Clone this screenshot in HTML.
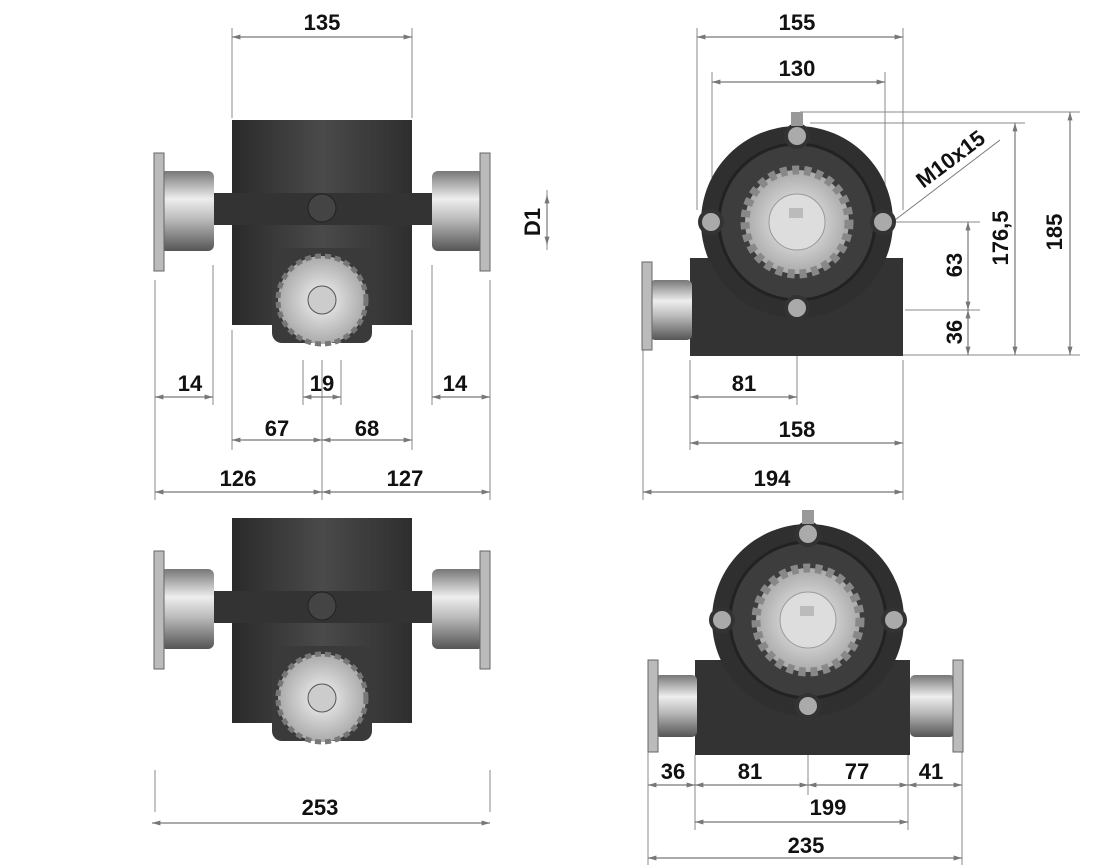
<!DOCTYPE html>
<html><head><meta charset="utf-8"><style>
html,body{margin:0;padding:0;background:#fff;width:1107px;height:868px;overflow:hidden}
svg text{font-family:"Liberation Sans",sans-serif;font-weight:bold;font-size:22px;fill:#111}
</style></head><body>
<svg width="1107" height="868" viewBox="0 0 1107 868" xmlns="http://www.w3.org/2000/svg">
<defs>
<linearGradient id="hub" x1="0" y1="0" x2="0" y2="1">
<stop offset="0" stop-color="#777"/><stop offset="0.35" stop-color="#eee"/><stop offset="0.6" stop-color="#bbb"/><stop offset="1" stop-color="#555"/></linearGradient>
<linearGradient id="body" x1="0" y1="0" x2="1" y2="0">
<stop offset="0" stop-color="#2a2a2a"/><stop offset="0.5" stop-color="#4a4a4a"/><stop offset="1" stop-color="#2e2e2e"/></linearGradient>
<radialGradient id="spr"><stop offset="0" stop-color="#f4f4f4"/><stop offset="1" stop-color="#aaa"/></radialGradient>
<marker id="a" viewBox="0 0 10 10" refX="10" refY="5" markerWidth="9" markerHeight="7" orient="auto-start-reverse"><path d="M0,2 L10,5 L0,8z" fill="#777"/></marker>
<g id="sideview">
<rect x="80" y="12" width="22" height="16" fill="#999"/>
<rect x="0" y="12" width="180" height="205" fill="url(#body)"/>
<rect x="-20" y="85" width="220" height="32" fill="#333"/>
<circle cx="90" cy="100" r="14" fill="#444" stroke="#222"/>
<rect x="-72" y="63" width="54" height="80" rx="6" fill="url(#hub)"/>
<rect x="-78" y="45" width="10" height="118" fill="#bbb" stroke="#666"/>
<rect x="200" y="63" width="52" height="80" rx="6" fill="url(#hub)"/>
<rect x="248" y="45" width="10" height="118" fill="#bbb" stroke="#666"/>
<rect x="40" y="140" width="100" height="95" rx="10" fill="#3a3a3a"/>
<circle cx="90" cy="192" r="44" fill="url(#spr)" stroke="#777" stroke-width="5" stroke-dasharray="6 4"/>
<circle cx="90" cy="192" r="14" fill="#ccc" stroke="#555"/>
</g>
<g id="frontview">
<circle cx="0" cy="0" r="96" fill="#2f2f2f"/>
<circle cx="0" cy="0" r="78" fill="#3d3d3d" stroke="#222" stroke-width="3"/>
<circle cx="0" cy="0" r="52" fill="url(#spr)" stroke="#888" stroke-width="9" stroke-dasharray="7 5"/>
<circle cx="0" cy="0" r="28" fill="#ddd" stroke="#999"/>
<rect x="-8" y="-14" width="14" height="10" fill="#bbb"/>
<circle cx="0" cy="-86" r="11" fill="#aaa" stroke="#333" stroke-width="4"/>
<circle cx="0" cy="86" r="11" fill="#aaa" stroke="#333" stroke-width="4"/>
<circle cx="-86" cy="0" r="11" fill="#aaa" stroke="#333" stroke-width="4"/>
<circle cx="86" cy="0" r="11" fill="#aaa" stroke="#333" stroke-width="4"/>
<rect x="-6" y="-110" width="12" height="14" fill="#999"/>
</g>
</defs>

<g stroke="#888" stroke-width="1" fill="none">
<!-- top-left extension lines -->
<path d="M232 28V118 M412 28V118 M155 280V500 M490 280V500 M213 265V405 M432 265V405 M232 330V450 M412 330V450 M322 360V500 M303 360V405 M341 360V405 M155 812V770 M490 812V770 M547 190V250"/>
<!-- top-right -->
<path d="M697 28V210 M903 28V210 M712 72V190 M885 72V190 M643 350V500 M903 360V500 M690 360V450 M797 330V405 M800 112H1080 M810 123H1025 M890 222H980 M905 310H980 M900 355H1080"/>
<!-- bottom-right -->
<path d="M648 700V865 M695 755V830 M808 730V795 M908 755V830 M962 700V865"/>
</g>
<g stroke="#777" stroke-width="1.2" marker-start="url(#a)" marker-end="url(#a)">
<line x1="232" y1="37" x2="412" y2="37"/>
<line x1="547" y1="195" x2="547" y2="245"/>
<line x1="155" y1="397" x2="213" y2="397"/>
<line x1="303" y1="397" x2="341" y2="397"/>
<line x1="432" y1="397" x2="490" y2="397"/>
<line x1="232" y1="440" x2="322" y2="440"/><line x1="322" y1="440" x2="412" y2="440"/>
<line x1="155" y1="492" x2="322" y2="492"/><line x1="322" y1="492" x2="490" y2="492"/>
<line x1="152" y1="823" x2="490" y2="823"/>
<line x1="697" y1="37" x2="903" y2="37"/>
<line x1="712" y1="82" x2="885" y2="82"/>
<line x1="1070" y1="112" x2="1070" y2="355"/>
<line x1="1015" y1="123" x2="1015" y2="355"/>
<line x1="968" y1="222" x2="968" y2="310"/><line x1="968" y1="310" x2="968" y2="355"/>
<line x1="690" y1="397" x2="797" y2="397"/>
<line x1="690" y1="443" x2="903" y2="443"/>
<line x1="643" y1="492" x2="903" y2="492"/>
<line x1="648" y1="785" x2="695" y2="785"/><line x1="695" y1="785" x2="808" y2="785"/>
<line x1="808" y1="785" x2="908" y2="785"/><line x1="908" y1="785" x2="962" y2="785"/>
<line x1="695" y1="822" x2="908" y2="822"/>
<line x1="648" y1="858" x2="962" y2="858"/>
</g>
<line x1="895" y1="220" x2="1000" y2="140" stroke="#777"/>

<use href="#sideview" x="232" y="108"/>
<use href="#sideview" x="232" y="506"/>

<!-- top right drawing -->
<rect x="690" y="258" width="213" height="98" fill="#333"/>
<rect x="650" y="280" width="42" height="60" rx="5" fill="url(#hub)"/>
<rect x="642" y="262" width="10" height="88" fill="#bbb" stroke="#666"/>
<use href="#frontview" x="797" y="222"/>
<!-- bottom right -->
<rect x="695" y="660" width="215" height="95" fill="#333"/>
<rect x="655" y="675" width="42" height="62" rx="5" fill="url(#hub)"/>
<rect x="648" y="660" width="10" height="92" fill="#bbb" stroke="#666"/>
<rect x="910" y="675" width="45" height="62" rx="5" fill="url(#hub)"/>
<rect x="953" y="660" width="10" height="92" fill="#bbb" stroke="#666"/>
<use href="#frontview" x="808" y="620"/>

<g text-anchor="middle">
<text x="322" y="30">135</text>
<text x="190" y="391">14</text><text x="322" y="391">19</text><text x="455" y="391">14</text>
<text x="277" y="436">67</text><text x="367" y="436">68</text>
<text x="238" y="486">126</text><text x="405" y="486">127</text>
<text x="320" y="815">253</text>
<text x="797" y="30">155</text><text x="797" y="76">130</text>
<text x="744" y="391">81</text><text x="797" y="437">158</text><text x="772" y="486">194</text>
<text x="673" y="779">36</text><text x="750" y="779">81</text><text x="857" y="779">77</text><text x="931" y="779">41</text>
<text x="828" y="815">199</text><text x="806" y="853">235</text>
<text transform="translate(540,222) rotate(-90)">D1</text>
<text transform="translate(962,265) rotate(-90)">63</text>
<text transform="translate(962,332) rotate(-90)">36</text>
<text transform="translate(1008,238) rotate(-90)">176,5</text>
<text transform="translate(1062,232) rotate(-90)">185</text>
<text transform="translate(955,165) rotate(-37)">M10x15</text>
</g>
</svg>
</body></html>
